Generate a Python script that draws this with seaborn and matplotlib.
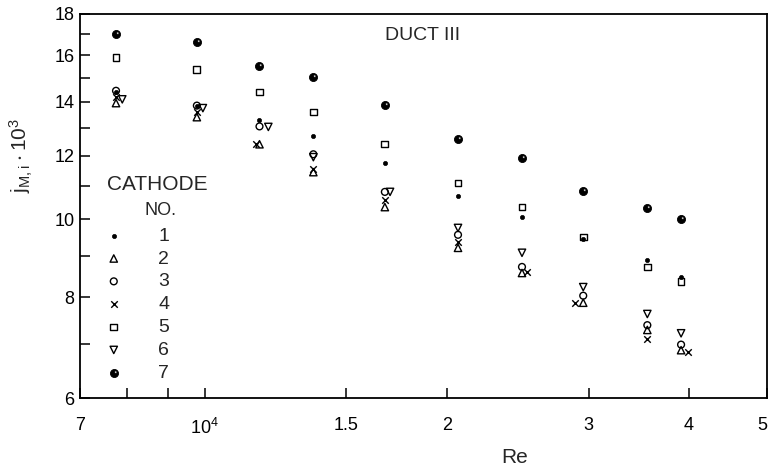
import numpy as np
import matplotlib
matplotlib.use("Agg")
import matplotlib.pyplot as plt
import seaborn as sns
from matplotlib.path import Path
from matplotlib.ticker import FixedLocator, FixedFormatter, NullFormatter

# Reynolds numbers of the measurement runs
re_base = [7760, 9780, 11700, 13650, 16750, 20650, 24800, 29550, 35500, 39100]
re_4 = [7760, 9780, 11580, 13650, 16750, 20650, 25150, 28850, 35500, 39900]
re_6 = [7900, 9950, 12000, 13650, 17000, 20650, 24800, 29550, 35500, 39100]

# Local mass-transfer factor j_M,i x 10^3 for each cathode
j_1 = [14.4, 13.85, 13.3, 12.7, 11.75, 10.7, 10.07, 9.46, 8.91, 8.48]
j_2 = [13.95, 13.4, 12.4, 11.45, 10.36, 9.22, 8.58, 7.88, 7.29, 6.88]
j_3 = [14.45, 13.85, 13.05, 12.05, 10.82, 9.57, 8.73, 8.04, 7.39, 6.99]
j_4 = [14.2, 13.6, 12.4, 11.55, 10.57, 9.38, 8.61, 7.88, 7.10, 6.84]
j_5 = [15.9, 15.35, 14.4, 13.6, 12.41, 11.10, 10.36, 9.51, 8.73, 8.38]
j_6 = [14.1, 13.75, 13.03, 11.95, 10.82, 9.76, 9.09, 8.24, 7.63, 7.22]
j_7 = [17.0, 16.6, 15.5, 15.05, 13.87, 12.59, 11.92, 10.85, 10.34, 10.01]

cathodes = ["1", "2", "3", "4", "5", "6", "7"]

x_ticks = [7000, 10000, 15000, 20000, 30000, 40000, 50000]
x_tick_labels = ["7", "$10^4$", "1.5", "2", "3", "4", "5"]
x_minor = [8000, 9000]
y_ticks = [6, 8, 10, 12, 14, 16, 18]
y_tick_labels = ["6", "8", "10", "12", "14", "16", "18"]
y_minor = [7, 9, 11, 13, 15, 17]

sns.set_theme(style="ticks")
plt.rcParams["font.family"] = ["Liberation Sans", "DejaVu Sans"]
plt.rcParams["mathtext.default"] = "regular"


def ball_marker():
    """Black disc with a small white highlight."""
    outer = Path.unit_circle()
    hole = Path.circle(center=(0.32, 0.34), radius=0.30)
    hv = hole.vertices
    rev = np.concatenate([hv[:-1][::-1], hv[-1:]])
    return Path(np.concatenate([outer.vertices, rev]),
                np.concatenate([outer.codes, hole.codes]))


fig = plt.figure(figsize=(7.68, 4.73), dpi=100)
ax = fig.add_axes([80 / 768, 75 / 473, 687 / 768, 384 / 473])
ax.set_xscale("log")
ax.set_yscale("log")

series = [
    (re_base, j_1, dict(marker="o", s=9, facecolor="black", edgecolor="black", linewidth=0.5)),
    (re_base, j_2, dict(marker="^", s=28, facecolor="none", edgecolor="black", linewidth=1.0)),
    (re_base, j_3, dict(marker="o", s=24, facecolor="none", edgecolor="black", linewidth=1.0)),
    (re_4, j_4, dict(marker="x", s=22, color="black", linewidth=1.0)),
    (re_base, j_5, dict(marker="s", s=24, facecolor="none", edgecolor="black", linewidth=1.0)),
    (re_6, j_6, dict(marker="v", s=28, facecolor="none", edgecolor="black", linewidth=1.0)),
    (re_base, j_7, dict(marker=ball_marker(), s=34, facecolor="black", edgecolor="black", linewidth=0.6)),
]
for label, (xs, ys, kw) in zip(cathodes, series):
    sns.scatterplot(x=xs, y=ys, ax=ax, label=label, zorder=3, **kw)

ax.set_xlim(7000, 50000)
ax.set_ylim(6, 18)

ax.xaxis.set_major_locator(FixedLocator(x_ticks))
ax.xaxis.set_major_formatter(FixedFormatter(x_tick_labels))
ax.xaxis.set_minor_locator(FixedLocator(x_minor))
ax.xaxis.set_minor_formatter(NullFormatter())
ax.yaxis.set_major_locator(FixedLocator(y_ticks))
ax.yaxis.set_major_formatter(FixedFormatter(y_tick_labels))
ax.yaxis.set_minor_locator(FixedLocator(y_minor))
ax.yaxis.set_minor_formatter(NullFormatter())

ax.tick_params(axis="both", which="both", direction="in", length=7, width=1.1,
               color="black", labelsize=13, labelcolor="black")
ax.tick_params(axis="x", which="both", pad=14)
ax.tick_params(axis="y", which="both", pad=4)
for sp in ax.spines.values():
    sp.set_linewidth(1.3)
    sp.set_color("black")
    sp.set_visible(True)

# keep the last x label inside the canvas
fig.canvas.draw()
ax.get_xticklabels()[-1].set_horizontalalignment("right")

ax.set_xlabel("Re", fontsize=15)
ax.xaxis.set_label_coords(0.632, -0.13)
ax.set_ylabel(r"$j_{M,i}\cdot10^3$", fontsize=15)
ax.yaxis.set_label_coords(-0.066, 0.633)

ax.text(0.499, 0.943, "DUCT III", transform=ax.transAxes, ha="center", va="center",
        fontsize=14)
ax.text(0.112, 0.555, "CATHODE", transform=ax.transAxes, ha="center", va="center",
        fontsize=15)
ax.text(0.1165, 0.488, "NO.", transform=ax.transAxes, ha="center", va="center",
        fontsize=13)

ax.legend(loc="upper left", bbox_to_anchor=(0.035, 0.445), frameon=False,
          fontsize=14, handlelength=1.0, handletextpad=1.8, labelspacing=0.27,
          borderpad=0, borderaxespad=0, markerscale=1.0)

fig.savefig("out.png", dpi=100)
